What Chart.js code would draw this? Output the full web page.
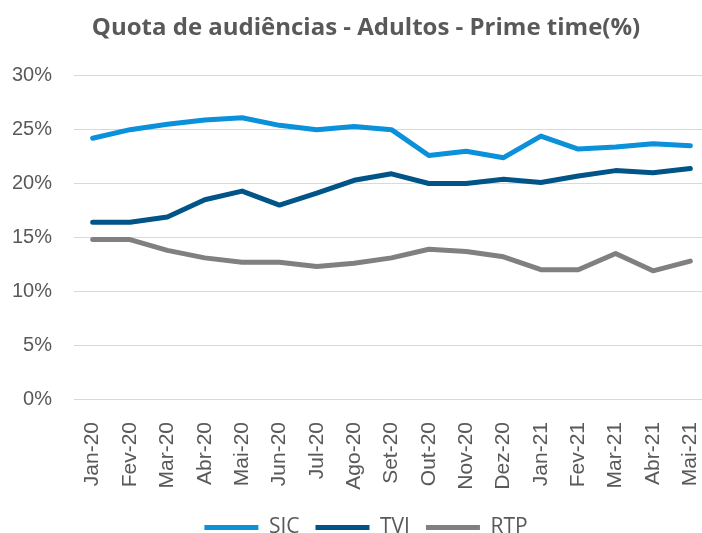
<!DOCTYPE html>
<html>
<head>
<meta charset="utf-8">
<script src="https://cdn.jsdelivr.net/npm/chart.js@4"></script>
<style>
html,body{margin:0;padding:0;background:#fff;overflow:hidden;}
#wrap{width:746px;height:533px;}
</style>
</head>
<body>
<div id="wrap"><canvas id="c" width="746" height="533"></canvas></div>
<script>
const categories = ["Jan-20","Fev-20","Mar-20","Abr-20","Mai-20","Jun-20","Jul-20","Ago-20","Set-20","Out-20","Nov-20","Dez-20","Jan-21","Fev-21","Mar-21","Abr-21","Mai-21"];
const sic = [24.2,25.0,25.5,25.9,26.1,25.4,25.0,25.3,25.0,22.6,23.0,22.4,24.4,23.2,23.4,23.7,23.5];
const tvi = [16.4,16.4,16.9,18.5,19.3,18.0,19.1,20.3,20.9,20.0,20.0,20.4,20.1,20.7,21.2,21.0,21.4];
const rtp = [14.8,14.8,13.8,13.1,12.7,12.7,12.3,12.6,13.1,13.9,13.7,13.2,12.0,12.0,13.5,11.9,12.8];
const yTicks = [0,5,10,15,20,25,30];

const AX = "'Liberation Sans', Arial, sans-serif";
const TF = "'Open Sans', sans-serif";
const TXT = "#595959";
function ds(label, data, color){
  return {label, data, borderColor: color, backgroundColor: color, borderWidth: 5,
    pointRadius: 0, pointHoverRadius: 0, pointStyle: 'line', fill: false, tension: 0,
    borderCapStyle: 'round', borderJoinStyle: 'round'};
}
new Chart(document.getElementById('c'), {
  type: 'line',
  data: {labels: categories, datasets: [ds('SIC', sic, '#0A91DA'), ds('TVI', tvi, '#005487'), ds('RTP', rtp, '#808080')]},
  options: {
    responsive: false, animation: false, devicePixelRatio: 1,
    layout: {padding: {left: 10, right: 24, top: 10, bottom: -15}},
    plugins: {
      title: {display: true, text: 'Quota de audiências - Adultos - Prime time(%)', color: TXT,
        font: {family: TF, size: 24, weight: 'bold'}, padding: {top: 4, bottom: 33}},
      legend: {position: 'bottom', labels: {color: TXT, font: {family: TF, size: 21},
        usePointStyle: true, pointStyleWidth: 54, boxHeight: 5, padding: 16}},
      tooltip: {enabled: false}
    },
    scales: {
      x: {offset: true, grid: {display: false}, border: {display: false},
        afterFit: s => { s.height = 102; },
        ticks: {color: TXT, font: {family: AX, size: 21}, minRotation: 90, maxRotation: 90, padding: 15, autoSkip: false}},
      y: {min: 0, max: 30, afterBuildTicks: a => { a.ticks = yTicks.map(v => ({value: v})); },
        afterFit: s => { s.width = 64; },
        grid: {color: '#D9D9D9', lineWidth: 1, drawTicks: false}, border: {display: false},
        ticks: {color: TXT, font: {family: AX, size: 20}, padding: 22, callback: v => v + '%'}},
      yR: {position: 'right', display: true, grid: {display: false}, border: {display: false},
        ticks: {display: false}, afterFit: s => { s.width = 13; }}
    }
  }
});
</script>
</body>
</html>
